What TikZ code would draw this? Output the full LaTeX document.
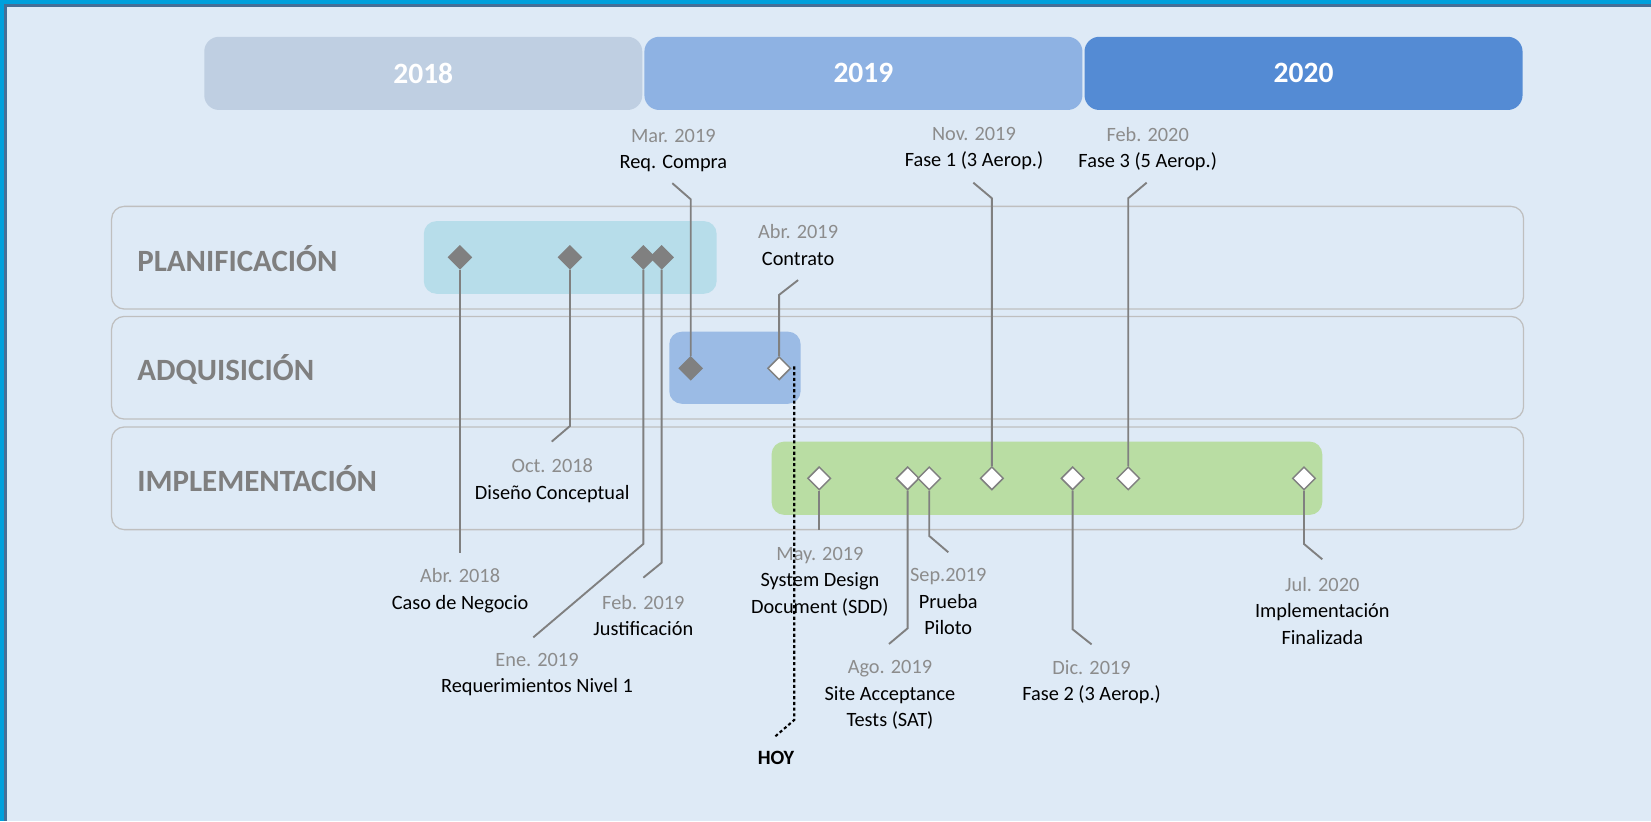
\documentclass[tikz,border=0pt]{standalone}
\usepackage{fontspec}
\setmainfont{Carlito}
\usetikzlibrary{shapes.geometric}
\pgfdeclarelayer{back}
\pgfdeclarelayer{mid}
\pgfsetlayers{back,mid,main}
\definecolor{bg}{HTML}{DEEAF6}
\definecolor{edgecyan}{HTML}{00A0DC}
\definecolor{edgedark}{HTML}{466E96}
\definecolor{yA}{HTML}{BFCFE2}
\definecolor{yB}{HTML}{8EB2E3}
\definecolor{yC}{HTML}{548BD4}
\definecolor{planbar}{HTML}{B7DDEA}
\definecolor{adqbar}{HTML}{9BBBE5}
\definecolor{implbar}{HTML}{B9DDA3}
\definecolor{rowline}{HTML}{BFBFBF}
\definecolor{msgray}{HTML}{808080}
\definecolor{labelgray}{HTML}{7F7F7F}
\definecolor{dategray}{HTML}{8C8C8C}
\begin{document}
\begin{tikzpicture}[x=0.5pt,y=-0.5pt,
  yearbar/.style={rounded corners=7pt,minimum width=208pt,minimum height=34.75pt,inner sep=0,text=white,font=\fontsize{14}{16}\selectfont\bfseries},
  rowbox/.style={draw=rowline,line width=0.6pt,rounded corners=6pt},
  rowlabel/.style={anchor=west,text=labelgray,font=\fontsize{14.7}{17}\selectfont\bfseries,inner sep=0},
  phasebar/.style={rounded corners=6pt},
  ms/.style={diamond,inner sep=0,minimum width=11pt,minimum height=11pt,line width=0.7pt},
  msfull/.style={ms,fill=msgray,draw=msgray},
  msopen/.style={ms,fill=white,draw=msgray},
  leader/.style={draw=msgray,line width=0.9pt},
  lbl/.style={anchor=north,align=center,inner sep=0,font=\fontsize{9.65}{12.6}\selectfont},
  hoyline/.style={draw=black,line width=1pt,dash pattern=on 1.5pt off 1.2pt},
]
\begin{pgfonlayer}{back}
% background and frame
\fill[bg] (0,0) rectangle (1568,780);
\fill[edgecyan] (0,0) rectangle (1568,3.8);
\fill[edgecyan] (0,0) rectangle (3.8,780);
\fill[edgedark] (3.8,3.8) rectangle (1568,6.3);
\fill[edgedark] (3.8,3.8) rectangle (6.3,780);

% year bars
\node[yearbar,fill=yA] (y2018) at (402,69.7) {2018};
\node[yearbar,fill=yB] (y2019) at (820,69.7) {2019};
\node[yearbar,fill=yC] (y2020) at (1238,69.7) {2020};

% row boxes
\draw[rowbox] (106,196) rectangle (1447,293.5);
\draw[rowbox] (106,300.5) rectangle (1447,398);
\draw[rowbox] (106,405.5) rectangle (1447,503);
\node[rowlabel] (lplan) at (130,245.3) {PLANIFICACIÓN};
\node[rowlabel] (ladq) at (130,350.4) {ADQUISICIÓN};
\node[rowlabel] (limpl) at (130,454.3) {IMPLEMENTACIÓN};

% phase bars
\fill[planbar,phasebar] (402.5,210) rectangle (680.6,279);
\fill[adqbar,phasebar] (635.6,315) rectangle (760.4,383.5);
\fill[implbar,phasebar] (732.8,419.4) rectangle (1255.8,489);
\end{pgfonlayer}
\useasboundingbox (0,0) rectangle (1568,780);

% coordinates for leader lines
\coordinate (e1) at (436.8,524.9);
\coordinate (b2) at (541.3,404.6); \coordinate (e2) at (524,419.4);
\coordinate (b3) at (611,516.6);   \coordinate (e3) at (506.5,605.3);
\coordinate (b4) at (628.4,534.4); \coordinate (e4) at (611,548.6);
\coordinate (b5) at (656,189.3);   \coordinate (e5) at (638.5,174);
\coordinate (b6) at (740,280);     \coordinate (e6) at (758,266);
\coordinate (e7) at (778,503.3);
\coordinate (b8) at (862,596.7);   \coordinate (e8) at (844.3,611.6);
\coordinate (b9) at (882.5,509);   \coordinate (e9) at (900.6,524.5);
\coordinate (b10) at (942,188.3);  \coordinate (e10) at (924.4,173.5);
\coordinate (b11) at (1018.7,597.7); \coordinate (e11) at (1036.7,612);
\coordinate (b12) at (1071.5,188.3); \coordinate (e12) at (1089,173.5);
\coordinate (b13) at (1238.4,516.6); \coordinate (e13) at (1255.8,531.2);

% milestones
\node[msfull] (d1) at (436.8,244.4) {};
\node[msfull] (d2) at (541.3,244.4) {};
\node[msfull] (d3) at (611,244.4) {};
\node[msfull] (d4) at (628.4,244.4) {};
\node[msfull] (d5) at (656,349.8) {};
\node[msopen] (d6) at (740,349.8) {};
\node[msopen] (d7) at (778,454.3) {};
\node[msopen] (d8) at (862,454.3) {};
\node[msopen] (d9) at (882.5,454.3) {};
\node[msopen] (d10) at (942,454.3) {};
\node[msopen] (d11) at (1018.7,454.3) {};
\node[msopen] (d12) at (1071.5,454.3) {};
\node[msopen] (d13) at (1238.4,454.3) {};

% leaders (below the diamonds)
\begin{pgfonlayer}{mid}
\draw[leader] (d1.south) -- (e1);
\draw[leader] (d2.south) -- (b2) -- (e2);
\draw[leader] (d3.south) -- (b3) -- (e3);
\draw[leader] (d4.south) -- (b4) -- (e4);
\draw[leader] (d5.north) -- (b5) -- (e5);
\draw[leader] (d6.north) -- (b6) -- (e6);
\draw[leader] (d7.south) -- (e7);
\draw[leader] (d8.south) -- (b8) -- (e8);
\draw[leader] (d9.south) -- (b9) -- (e9);
\draw[leader] (d10.north) -- (b10) -- (e10);
\draw[leader] (d11.south) -- (b11) -- (e11);
\draw[leader] (d12.north) -- (b12) -- (e12);
\draw[leader] (d13.south) -- (b13) -- (e13);
\end{pgfonlayer}

% labels
\node[lbl] (t1) at (437,539.7) {\textcolor{dategray}{Abr. 2018}\\Caso de Negocio};
\node[lbl] (t2) at (524.5,435.3) {\textcolor{dategray}{Oct. 2018}\\Diseño Conceptual};
\node[lbl] (t3) at (510,619.7) {\textcolor{dategray}{Ene. 2019}\\Requerimientos Nivel 1};
\node[lbl] (t4) at (611,565) {\textcolor{dategray}{Feb. 2019}\\Justificación};
\node[lbl] (t5) at (639.5,122) {\textcolor{dategray}{Mar. 2019}\\Req. Compra};
\node[lbl] (t6) at (758,212.7) {\textcolor{dategray}{Abr. 2019}\\Contrato};
\node[lbl] (t7) at (778.7,519.2) {\textcolor{dategray}{May. 2019}\\System Design\\Document (SDD)};
\node[lbl] (t8) at (845.2,626.7) {\textcolor{dategray}{Ago. 2019}\\Site Acceptance\\Tests (SAT)};
\node[lbl] (t9) at (900.6,539.7) {\textcolor{dategray}{Sep.2019}\\Prueba\\Piloto};
\node[lbl] (t10) at (925,120.3) {\textcolor{dategray}{Nov. 2019}\\Fase 1 (3 Aerop.)};
\node[lbl] (t11) at (1036.7,626.7) {\textcolor{dategray}{Dic. 2019}\\Fase 2 (3 Aerop.)};
\node[lbl] (t12) at (1090,120.3) {\textcolor{dategray}{Feb. 2020}\\Fase 3 (5 Aerop.)};
\node[lbl] (t13) at (1255.8,547.7) {\textcolor{dategray}{Jul. 2020}\\Implementación\\Finalizada};

% HOY
\coordinate (h0) at (754.3,348);
\coordinate (h1) at (754.3,683.8);
\coordinate (h2) at (736,699.6);
\draw[hoyline] (h0) -- (h1) -- (h2);
\node[font=\fontsize{9.65}{12}\selectfont\bfseries,inner sep=0] (hoy) at (737,720) {HOY};
\end{tikzpicture}
\end{document}
